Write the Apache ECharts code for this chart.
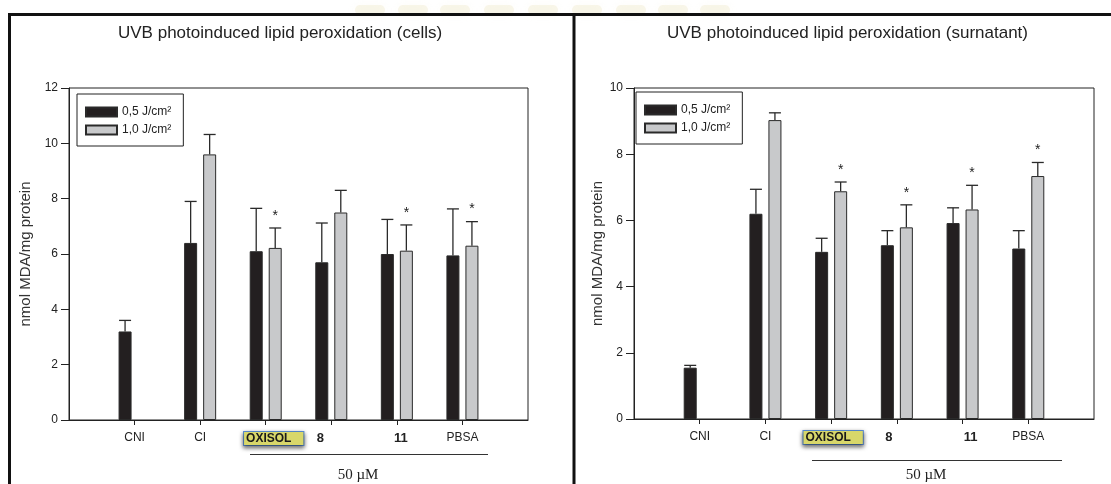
<!DOCTYPE html>
<html>
<head>
<meta charset="utf-8">
<script src="https://cdn.jsdelivr.net/npm/echarts@6/dist/echarts.min.js"></script>
<style>
  html, body { margin: 0; padding: 0; background: #fff; }
  #chart { width: 1111px; height: 484px; }
</style>
</head>
<body>
<div id="chart"></div>
<script>
// Groups along the x axis
const categories = ['CNI', 'CI', 'OXISOL', '8', '11', 'PBSA'];
const seriesNames = ['0,5 J/cm\u00B2', '1,0 J/cm\u00B2'];

// Cells: nmol MDA / mg protein (mean and SD)
const cellsLow = [3.2, 6.4, 6.1, 5.7, 6.0, 5.95];
const cellsLowErr = [0.4, 1.5, 1.55, 1.42, 1.25, 1.68];
const cellsHigh = [null, 9.6, 6.22, 7.5, 6.12, 6.3];
const cellsHighErr = [null, 0.72, 0.72, 0.8, 0.93, 0.87];
const cellsSig = [0, 0, 1, 0, 1, 1];

// Supernatant: nmol MDA / mg protein (mean and SD)
const surnLow = [1.55, 6.2, 5.05, 5.25, 5.92, 5.15];
const surnLowErr = [0.07, 0.74, 0.41, 0.44, 0.46, 0.54];
const surnHigh = [null, 9.03, 6.88, 5.79, 6.33, 7.34];
const surnHighErr = [null, 0.22, 0.28, 0.68, 0.73, 0.41];
const surnSig = [0, 0, 1, 1, 1, 1];

// Axis ticks
const cellsTicks = { min: 0, max: 12, interval: 2 };
const surnTicks = { min: 0, max: 10, interval: 2 };

const SANS = '"Liberation Sans", Arial, sans-serif';
const SERIF = '"Liberation Serif", "Times New Roman", serif';
const BAR_W = 13;
const BAR_GAP = 6;
const HALF_STEP = (BAR_W + BAR_GAP) / 2;

const axisCats = [''].concat(categories, ['']);
const pad = arr => [null].concat(arr, [null]);

function labelFormatter(shift) {
  return function (value) {
    if (value === 'OXISOL') {
      return shift.OXISOL > 0 ? '{sp' + shift.OXISOL + '| }{ox|OXISOL}' : '{ox|OXISOL}';
    }
    if (value === '8' || value === '11') {
      const s = shift[value] || 0;
      if (s < 0) return '{b|' + value + '}{sp' + (-s) + '| }';
      if (s > 0) return '{sp' + s + '| }{b|' + value + '}';
      return '{b|' + value + '}';
    }
    return value;
  };
}

function richFor(shift) {
  const rich = {
    ox: {
      fontFamily: SANS, fontSize: 12, fontWeight: 'bold', color: '#1a1a1a',
      backgroundColor: '#d8d76a', borderColor: '#5a8ed6', borderWidth: 1,
      padding: [1, 12, 0, 2],
      shadowColor: 'rgba(0,0,0,0.55)', shadowBlur: 4, shadowOffsetY: 2
    },
    b: { fontFamily: SANS, fontSize: 13, fontWeight: 'bold', color: '#222' }
  };
  Object.keys(shift).forEach(k => {
    const w = Math.abs(shift[k]) * 2;
    rich['sp' + Math.abs(shift[k])] = { width: w, fontSize: 12 };
  });
  return rich;
}

function errorSeries(gridIdx, vals, errs, sig, dir) {
  const data = [];
  vals.forEach((v, i) => {
    if (v != null) data.push([i + 1, v, errs[i], sig ? sig[i] : 0]);
  });
  return {
    type: 'custom',
    xAxisIndex: gridIdx, yAxisIndex: gridIdx,
    z: 5,
    silent: true,
    encode: { x: 0, y: 1 },
    data: data,
    renderItem: function (params, api) {
      const base = api.coord([api.value(0), api.value(1)]);
      const top = api.coord([api.value(0), api.value(1) + api.value(2)]);
      const x = base[0] + dir * HALF_STEP;
      const style = { stroke: '#2a2a2a', lineWidth: 1.3 };
      const children = [
        { type: 'line', shape: { x1: x, y1: base[1], x2: x, y2: top[1] }, style: style },
        { type: 'line', shape: { x1: x - 6, y1: top[1], x2: x + 6, y2: top[1] }, style: style }
      ];
      if (api.value(3)) {
        children.push({
          type: 'text',
          style: {
            text: '*', x: x, y: top[1] - 12,
            align: 'center', verticalAlign: 'middle',
            font: '14px ' + SANS, fill: '#222'
          }
        });
      }
      return { type: 'group', children: children };
    }
  };
}

function barSeries(gridIdx, name, vals, color) {
  return {
    type: 'bar', name: name,
    xAxisIndex: gridIdx, yAxisIndex: gridIdx,
    barWidth: BAR_W, barGap: (BAR_GAP / BAR_W * 100).toFixed(1) + '%',
    data: pad(vals),
    itemStyle: { color: color, borderColor: '#2a2a2a', borderWidth: 1 },
    emphasis: { disabled: true }
  };
}

const cellsShift = { OXISOL: 8, '8': -11, '11': 4 };
const surnShift = { OXISOL: 2, '8': -8, '11': 8 };

function xAxisFor(gridIdx, shift) {
  return {
    type: 'category', gridIndex: gridIdx, data: axisCats, boundaryGap: false,
    axisLine: { lineStyle: { color: '#222', width: 1 } },
    axisTick: {
      length: 5, inside: false, lineStyle: { color: '#222' },
      interval: (i) => i > 0 && i < axisCats.length - 1
    },
    axisLabel: {
      interval: 0, margin: 12, fontFamily: SANS, fontSize: 12, color: '#222',
      formatter: labelFormatter(shift), rich: richFor(shift)
    },
    splitLine: { show: false }
  };
}

function yAxisFor(gridIdx, ticks, gap) {
  return {
    type: 'value', gridIndex: gridIdx,
    min: ticks.min, max: ticks.max, interval: ticks.interval,
    name: 'nmol MDA/mg protein', nameLocation: 'middle', nameGap: gap,
    nameTextStyle: { fontFamily: SANS, fontSize: 15, color: '#333' },
    axisLine: { show: true, lineStyle: { color: '#222', width: 1 } },
    axisTick: { show: true, length: 8, lineStyle: { color: '#222' } },
    axisLabel: { margin: 11, fontFamily: SANS, fontSize: 12, color: '#222' },
    splitLine: { show: false }
  };
}

function legendFor(left, top) {
  return {
    left: left, top: top, orient: 'vertical',
    data: seriesNames,
    icon: 'rect',
    itemWidth: 31, itemHeight: 9, itemGap: 6,
    borderColor: '#222', borderWidth: 1, padding: [12, 12, 10, 8],
    textStyle: { fontFamily: SANS, fontSize: 12, color: '#222' },
    selectedMode: false,
    backgroundColor: '#fff'
  };
}

const titleStyle = { fontFamily: SANS, fontSize: 17, fontWeight: 'normal', color: '#222' };

// faint logo band printed behind the top edge of the frame
const logoBand = [355, 398, 440, 484, 528, 572, 616, 658, 700].map(x => ({
  type: 'rect', z: -1, silent: true,
  shape: { x: x, y: 5, width: 30, height: 10, r: 5 },
  style: { fill: 'rgba(236,228,190,0.3)', shadowBlur: 8, shadowColor: 'rgba(236,228,190,0.4)' }
}));

const chart = echarts.init(document.getElementById('chart'), null, { renderer: 'canvas' });

chart.setOption({
  animation: false,
  backgroundColor: '#fff',
  title: [
    { text: 'UVB photoinduced lipid peroxidation (cells)', left: 118, top: 25, padding: 0, textStyle: titleStyle },
    { text: 'UVB photoinduced lipid peroxidation (surnatant)', left: 667, top: 25, padding: 0, textStyle: titleStyle }
  ],
  grid: [
    { left: 69, top: 88, width: 459, height: 332, show: true, borderColor: '#222', borderWidth: 1, backgroundColor: 'transparent' },
    { left: 634, top: 88, width: 460, height: 331, show: true, borderColor: '#222', borderWidth: 1, backgroundColor: 'transparent' }
  ],
  legend: [legendFor(77, 94), legendFor(636, 92)],
  xAxis: [xAxisFor(0, cellsShift), xAxisFor(1, surnShift)],
  yAxis: [yAxisFor(0, cellsTicks, 36), yAxisFor(1, surnTicks, 29)],
  series: [
    barSeries(0, seriesNames[0], cellsLow, '#231f20'),
    barSeries(0, seriesNames[1], cellsHigh, '#c8c9cb'),
    errorSeries(0, cellsLow, cellsLowErr, null, -1),
    errorSeries(0, cellsHigh, cellsHighErr, cellsSig, 1),
    barSeries(1, seriesNames[0], surnLow, '#231f20'),
    barSeries(1, seriesNames[1], surnHigh, '#c8c9cb'),
    errorSeries(1, surnLow, surnLowErr, null, -1),
    errorSeries(1, surnHigh, surnHighErr, surnSig, 1)
  ],
  graphic: logoBand.concat([
    // panel frame
    { type: 'line', shape: { x1: 8, y1: 14.5, x2: 1111, y2: 14.5 }, style: { stroke: '#111', lineWidth: 3 } },
    { type: 'line', shape: { x1: 9.5, y1: 13, x2: 9.5, y2: 484 }, style: { stroke: '#111', lineWidth: 3 } },
    { type: 'line', shape: { x1: 574, y1: 13, x2: 574, y2: 484 }, style: { stroke: '#111', lineWidth: 3 } },
    // concentration brackets
    { type: 'line', shape: { x1: 250, y1: 454.5, x2: 488, y2: 454.5 }, style: { stroke: '#333', lineWidth: 1 } },
    { type: 'text', x: 358, y: 475, style: { text: '50 \u00B5M', font: '15px ' + SERIF, fill: '#222', align: 'center', verticalAlign: 'middle' } },
    { type: 'line', shape: { x1: 812, y1: 460.5, x2: 1062, y2: 460.5 }, style: { stroke: '#333', lineWidth: 1 } },
    { type: 'text', x: 926, y: 475, style: { text: '50 \u00B5M', font: '15px ' + SERIF, fill: '#222', align: 'center', verticalAlign: 'middle' } }
  ])
});
</script>
</body>
</html>
